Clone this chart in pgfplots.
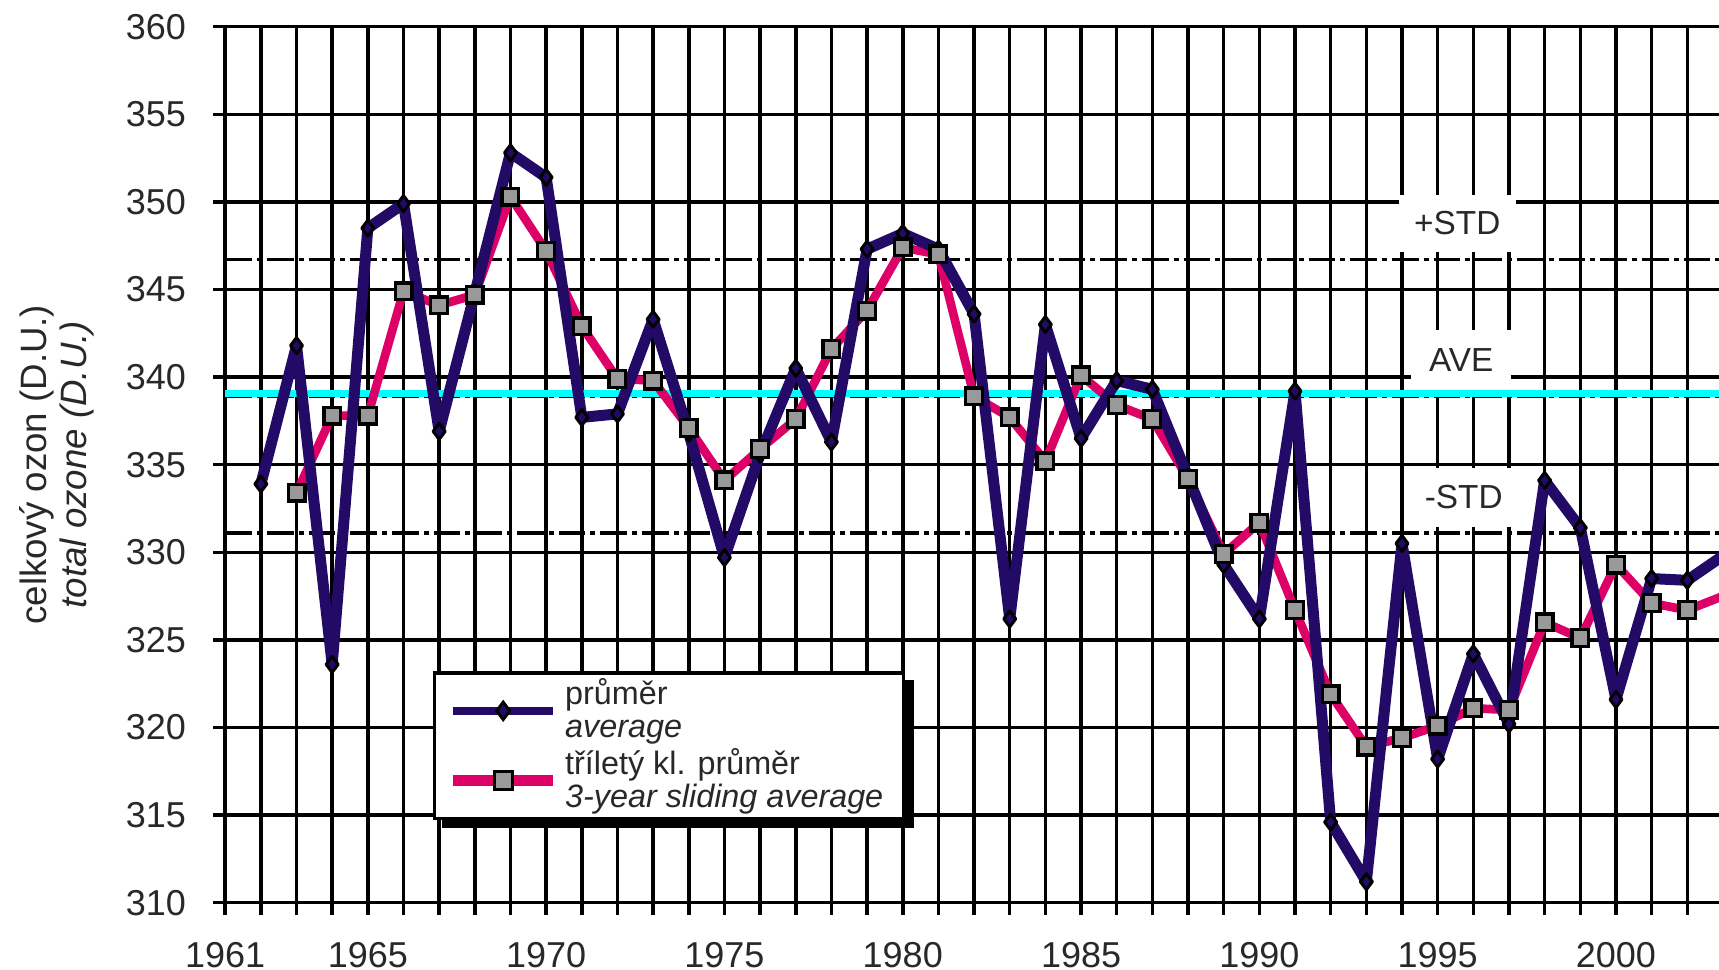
\documentclass[border=0pt]{standalone}
\usepackage{fontspec}
\setmainfont{Liberation Sans}
\usepackage{pgfplots}
\usepackage{pgfplotstable}
\pgfplotsset{compat=1.18}
\definecolor{navy}{RGB}{34,10,102}
\definecolor{pinkc}{RGB}{221,0,102}
\definecolor{graym}{RGB}{153,153,153}
\definecolor{txt}{RGB}{40,40,40}
\definecolor{cyanc}{RGB}{0,255,255}

\pgfplotstableread{
year val
1962 333.9
1963 341.8
1964 323.6
1965 348.5
1966 349.9
1967 336.9
1968 344.8
1969 352.8
1970 351.4
1971 337.7
1972 337.9
1973 343.3
1974 336.8
1975 329.7
1976 335.6
1977 340.5
1978 336.3
1979 347.3
1980 348.2
1981 347.3
1982 343.6
1983 326.2
1984 343.0
1985 336.5
1986 339.8
1987 339.3
1988 334.3
1989 329.3
1990 326.2
1991 339.2
1992 314.6
1993 311.2
1994 330.5
1995 318.2
1996 324.2
1997 320.2
1998 334.1
1999 331.4
2000 321.6
2001 328.5
2002 328.4
2003 329.8
}\avgdata

\pgfplotstableread{
year val
1963 333.4
1964 337.8
1965 337.8
1966 344.9
1967 344.1
1968 344.7
1969 350.3
1970 347.2
1971 342.9
1972 339.9
1973 339.8
1974 337.1
1975 334.1
1976 335.9
1977 337.6
1978 341.6
1979 343.8
1980 347.4
1981 347.0
1982 338.9
1983 337.7
1984 335.2
1985 340.1
1986 338.4
1987 337.6
1988 334.2
1989 329.9
1990 331.7
1991 326.7
1992 321.9
1993 318.9
1994 319.4
1995 320.1
1996 321.1
1997 321.0
1998 326.0
1999 325.1
2000 329.3
2001 327.1
2002 326.7
2003 327.5
}\slidedata

\begin{document}
\begin{tikzpicture}[x=1pt,y=1pt]
\begin{axis}[
  at={(0,0)}, anchor=south west,
  scale only axis, width=448.14pt, height=262.8pt,
  xmin=1961, xmax=2002.89, ymin=310, ymax=360,
  axis x line=bottom, axis y line=left,
  axis line style={-, black, line width=1.05pt},
  xtick={1961,1965,1970,1975,1980,1985,1990,1995,2000},
  minor xtick={1962,1963,...,2002},
  ytick={310,315,...,360},
  grid=both,
  major grid style={black, line width=1.05pt},
  minor grid style={black, line width=1.05pt},
  tick align=outside,
  major tick length=3.6pt, minor tick length=3.6pt,
  every tick/.style={black, line width=1.05pt},
  tick label style={font=\fontsize{10.8}{12}\selectfont, text=txt},
  /pgf/number format/assume math mode=true,
  /pgf/number format/1000 sep={},
  xticklabel style={anchor=north, inner sep=0pt, yshift=-8pt},
  yticklabel style={anchor=east, inner sep=0pt, xshift=-8pt},
  ylabel={celkový ozon (D.U.)\\\textit{total ozone (D.U.)}},
  ylabel style={align=center, font=\fontsize{11}{12}\selectfont, text=txt,
    at={(axis description cs:-0.0875,0.5)}, anchor=south, inner sep=0pt},
  legend style={name=leg, at={(axis description cs:0.139,0.0944)}, anchor=south west,
    draw=black, line width=1pt, fill=white,
    font=\fontsize{9.7}{9.9}\selectfont, text=txt,
    cells={anchor=west, align=left},
    nodes={inner ysep=0.8pt},
    inner xsep=4pt, inner ysep=1pt, row sep=0pt},
  legend image code/.code={\draw[mark repeat=2,mark phase=2] plot coordinates {(0pt,0pt)(15pt,0pt)(30pt,0pt)};},
]
% reference lines
\addplot[black, line width=1pt, dash pattern=on 8pt off 1.5pt on 1.5pt off 1.5pt, forget plot]
  coordinates {(1961,346.7) (2002.89,346.7)};
\addplot[black, line width=1pt, dash pattern=on 8pt off 1.5pt on 1.5pt off 1.5pt, forget plot]
  coordinates {(1961,331.1) (2002.89,331.1)};
\addplot[black, line width=1pt, dash pattern=on 8pt off 1.5pt on 1.5pt off 1.5pt, forget plot]
  coordinates {(1961,338.9) (2002.89,338.9)};
\addplot[cyanc, line width=2pt, forget plot]
  coordinates {(1961,339.05) (2002.89,339.05)};
% series
\addplot[pinkc, line width=2.6pt, line join=round, forget plot] table[x=year,y=val]{\slidedata};
\addplot[navy, line width=3.3pt, line join=round, mark=diamond*, mark size=2.4pt,
  mark options={fill=navy, draw=black, line width=0.9pt, solid}, forget plot]
  table[x=year,y=val]{\avgdata};
\addplot[only marks, mark=square*, mark size=2.5pt,
  mark options={fill=graym, draw=black, line width=1pt}, forget plot]
  table[x=year,y=val]{\slidedata};
\addlegendimage{navy, line width=2.4pt, mark=diamond*, mark size=2.6pt,
  mark options={fill=navy, draw=black, line width=0.9pt}}
\addlegendentry{průměr\\\textit{average}}
\addlegendimage{pinkc, line width=3.2pt, mark=square*, mark size=2.7pt,
  mark options={fill=graym, draw=black, line width=1pt}}
\addlegendentry{tříletý kl. průměr\\\textit{3-year sliding average}}
% labels
\node[fill=white, minimum width=35pt, minimum height=17pt, inner sep=0pt, text=txt,
  font=\fontsize{10}{12}\selectfont] at (axis cs:1995.55,348.77) {+STD};
\node[fill=white, minimum width=30pt, minimum height=18pt, inner sep=0pt, text=txt,
  font=\fontsize{10}{12}\selectfont] at (axis cs:1995.66,340.97) {AVE};
\node[fill=white, minimum width=32pt, minimum height=17.7pt, inner sep=0pt, text=txt,
  font=\fontsize{10}{12}\selectfont] at (axis cs:1995.73,333.13) {-STD};
\end{axis}
% legend shadow
\fill[black] ([xshift=2.6pt,yshift=0.5pt]leg.south west) rectangle ([xshift=2.6pt,yshift=-2.4pt]leg.south east);
\fill[black] ([xshift=-0.5pt,yshift=-2.6pt]leg.north east) rectangle ([xshift=2.6pt,yshift=-2.4pt]leg.south east);
\pgfresetboundingbox
\path[use as bounding box] (-67.56,-20.19) rectangle (448.14,270.81);
\end{tikzpicture}
\end{document}
